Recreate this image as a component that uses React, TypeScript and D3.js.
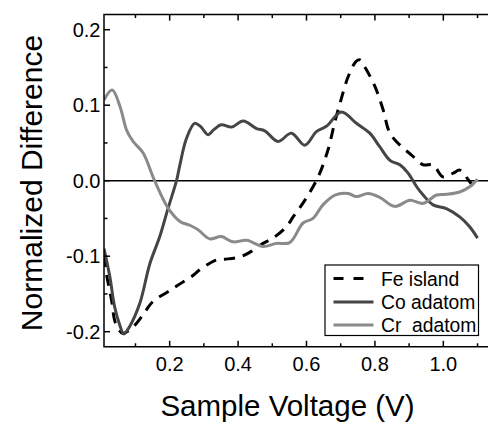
import React from "react";
import * as d3 from "d3";

const feV = [0.008,0.015,0.03,0.042,0.063,0.09,0.115,0.132,0.151,0.195,0.225,0.264,0.288,0.337,0.361,0.405,0.434,0.473,0.502,0.541,0.561,0.595,0.634,0.663,0.683,0.702,0.722,0.745,0.756,0.77,0.8,0.824,0.844,0.878,0.907,0.941,0.97,0.999,1.029,1.048,1.075,1.10];
const feVal = [-0.1,-0.123,-0.158,-0.189,-0.202,-0.195,-0.182,-0.171,-0.16,-0.147,-0.138,-0.127,-0.118,-0.105,-0.104,-0.101,-0.095,-0.083,-0.076,-0.061,-0.048,-0.026,0.005,0.041,0.078,0.109,0.138,0.158,0.160,0.151,0.125,0.094,0.063,0.045,0.034,0.021,0.021,0.005,0.01,0.014,0.0,-0.015];

const coV = [0.008,0.025,0.039,0.054,0.066,0.083,0.113,0.142,0.171,0.195,0.22,0.229,0.249,0.273,0.29,0.312,0.33,0.351,0.381,0.415,0.454,0.478,0.517,0.556,0.595,0.629,0.658,0.702,0.746,0.785,0.814,0.844,0.873,0.897,0.922,0.941,0.97,1.009,1.048,1.077,1.10];
const coVal = [-0.09,-0.127,-0.167,-0.191,-0.203,-0.193,-0.162,-0.11,-0.074,-0.037,0.0,0.019,0.056,0.076,0.072,0.061,0.068,0.074,0.071,0.079,0.069,0.066,0.052,0.063,0.047,0.065,0.072,0.091,0.076,0.063,0.045,0.027,0.021,0.01,-0.008,-0.019,-0.032,-0.037,-0.048,-0.061,-0.076];

const crV = [0.008,0.032,0.055,0.074,0.093,0.122,0.156,0.195,0.23,0.259,0.283,0.317,0.351,0.385,0.425,0.473,0.512,0.551,0.59,0.619,0.648,0.683,0.722,0.746,0.78,0.814,0.858,0.902,0.941,0.98,1.01,1.048,1.077,1.10];
const crVal = [0.107,0.12,0.098,0.067,0.052,0.037,0.0,-0.036,-0.054,-0.059,-0.065,-0.077,-0.074,-0.081,-0.079,-0.087,-0.083,-0.082,-0.056,-0.05,-0.032,-0.019,-0.017,-0.021,-0.017,-0.022,-0.034,-0.026,-0.030,-0.019,-0.018,-0.015,-0.008,0.002];

const xMajor = [0.2, 0.4, 0.6, 0.8, 1.0];
const xMinor = [0.1, 0.3, 0.5, 0.7, 0.9, 1.1];
const yMajor = [-0.2, -0.1, 0.0, 0.1, 0.2];
const yMinor = [-0.15, -0.05, 0.05, 0.15];

const legendLabels = ["Fe island", "Co adatom", "Cr  adatom"];

const FONT = "'Liberation Sans', Arial, sans-serif";

export default function App() {
  const left = 104, right = 489.5, top = 14.6, bottom = 346.8;
  const x = d3.scaleLinear().domain([0.008, 1.135]).range([left, right]);
  const y = d3.scaleLinear().domain([-0.22, 0.22]).range([bottom, top]);
  const line = d3
    .line<[number, number]>()
    .x((d) => x(d[0]))
    .y((d) => y(d[1]))
    .curve(d3.curveCatmullRom.alpha(0.5));
  const mk = (vs: number[], ws: number[]) => vs.map((v, i) => [v, ws[i]] as [number, number]);
  const series = [
    { data: mk(feV, feVal), color: "#000", dash: "11,8" },
    { data: mk(coV, coVal), color: "#454545", dash: undefined },
    { data: mk(crV, crVal), color: "#8a8a8a", dash: undefined },
  ];
  const fmt = (v: number) => d3.format(".1f")(v).replace("\u2212", "-");
  const lg = { x: 325, y: 265, w: 153.5, h: 70.5 };
  const rowY = [278.5, 302, 325];
  return (
    <svg
      width={488}
      height={423}
      style={{ position: "absolute", left: 0, top: 0, background: "#fff" }}
      fontFamily={FONT}
    >
      <rect x={0} y={0} width={488} height={423} fill="#fff" />
      <defs>
        <clipPath id="plotclip">
          <rect x={left} y={top} width={right - left} height={bottom - top} />
        </clipPath>
      </defs>
      <line x1={left} x2={right} y1={y(0)} y2={y(0)} stroke="#000" strokeWidth={1.6} />
      <g clipPath="url(#plotclip)">
        {series.map((s, i) => (
          <path
            key={i}
            d={line(s.data) || ""}
            fill="none"
            stroke={s.color}
            strokeWidth={3}
            strokeDasharray={s.dash}
            strokeLinejoin="round"
          />
        ))}
      </g>
      <path
        d={`M${right},${top}H${left}V${bottom}H${right}`}
        fill="none"
        stroke="#000"
        strokeWidth={1.5}
      />
      {xMajor.map((v) => (
        <g key={"xM" + v}>
          <line x1={x(v)} x2={x(v)} y1={bottom} y2={bottom - 6} stroke="#000" strokeWidth={1.5} />
          <line x1={x(v)} x2={x(v)} y1={top} y2={top + 6} stroke="#000" strokeWidth={1.5} />
          <text x={x(v)} y={370.5} textAnchor="middle" fontSize={20}>
            {fmt(v)}
          </text>
        </g>
      ))}
      {xMinor.map((v) => (
        <g key={"xm" + v}>
          <line x1={x(v)} x2={x(v)} y1={bottom} y2={bottom - 3.5} stroke="#000" strokeWidth={1.5} />
          <line x1={x(v)} x2={x(v)} y1={top} y2={top + 3.5} stroke="#000" strokeWidth={1.5} />
        </g>
      ))}
      {yMajor.map((v) => (
        <g key={"yM" + v}>
          <line x1={left} x2={left + 6} y1={y(v)} y2={y(v)} stroke="#000" strokeWidth={1.5} />
          <text x={100.5} y={y(v) + 7} textAnchor="end" fontSize={20}>
            {fmt(v)}
          </text>
        </g>
      ))}
      {yMinor.map((v) => (
        <line key={"ym" + v} x1={left} x2={left + 3.5} y1={y(v)} y2={y(v)} stroke="#000" strokeWidth={1.5} />
      ))}
      <text x={287.5} y={416} textAnchor="middle" fontSize={29.5}>
        Sample Voltage (V)
      </text>
      <text
        transform={`translate(41.5,183) rotate(-90)`}
        textAnchor="middle"
        fontSize={30}
      >
        Normalized Difference
      </text>
      <rect x={lg.x} y={lg.y} width={lg.w} height={lg.h} fill="#fff" stroke="#000" strokeWidth={1.2} />
      {series.map((s, i) => (
        <g key={"lg" + i}>
          <line
            x1={333.5}
            x2={373.5}
            y1={rowY[i]}
            y2={rowY[i]}
            stroke={s.color}
            strokeWidth={3}
            strokeDasharray={s.dash ? "10,10" : undefined}
          />
          <text x={381} y={rowY[i] + 7} fontSize={19.3} style={{ whiteSpace: "pre" }}>
            {legendLabels[i]}
          </text>
        </g>
      ))}
    </svg>
  );
}
